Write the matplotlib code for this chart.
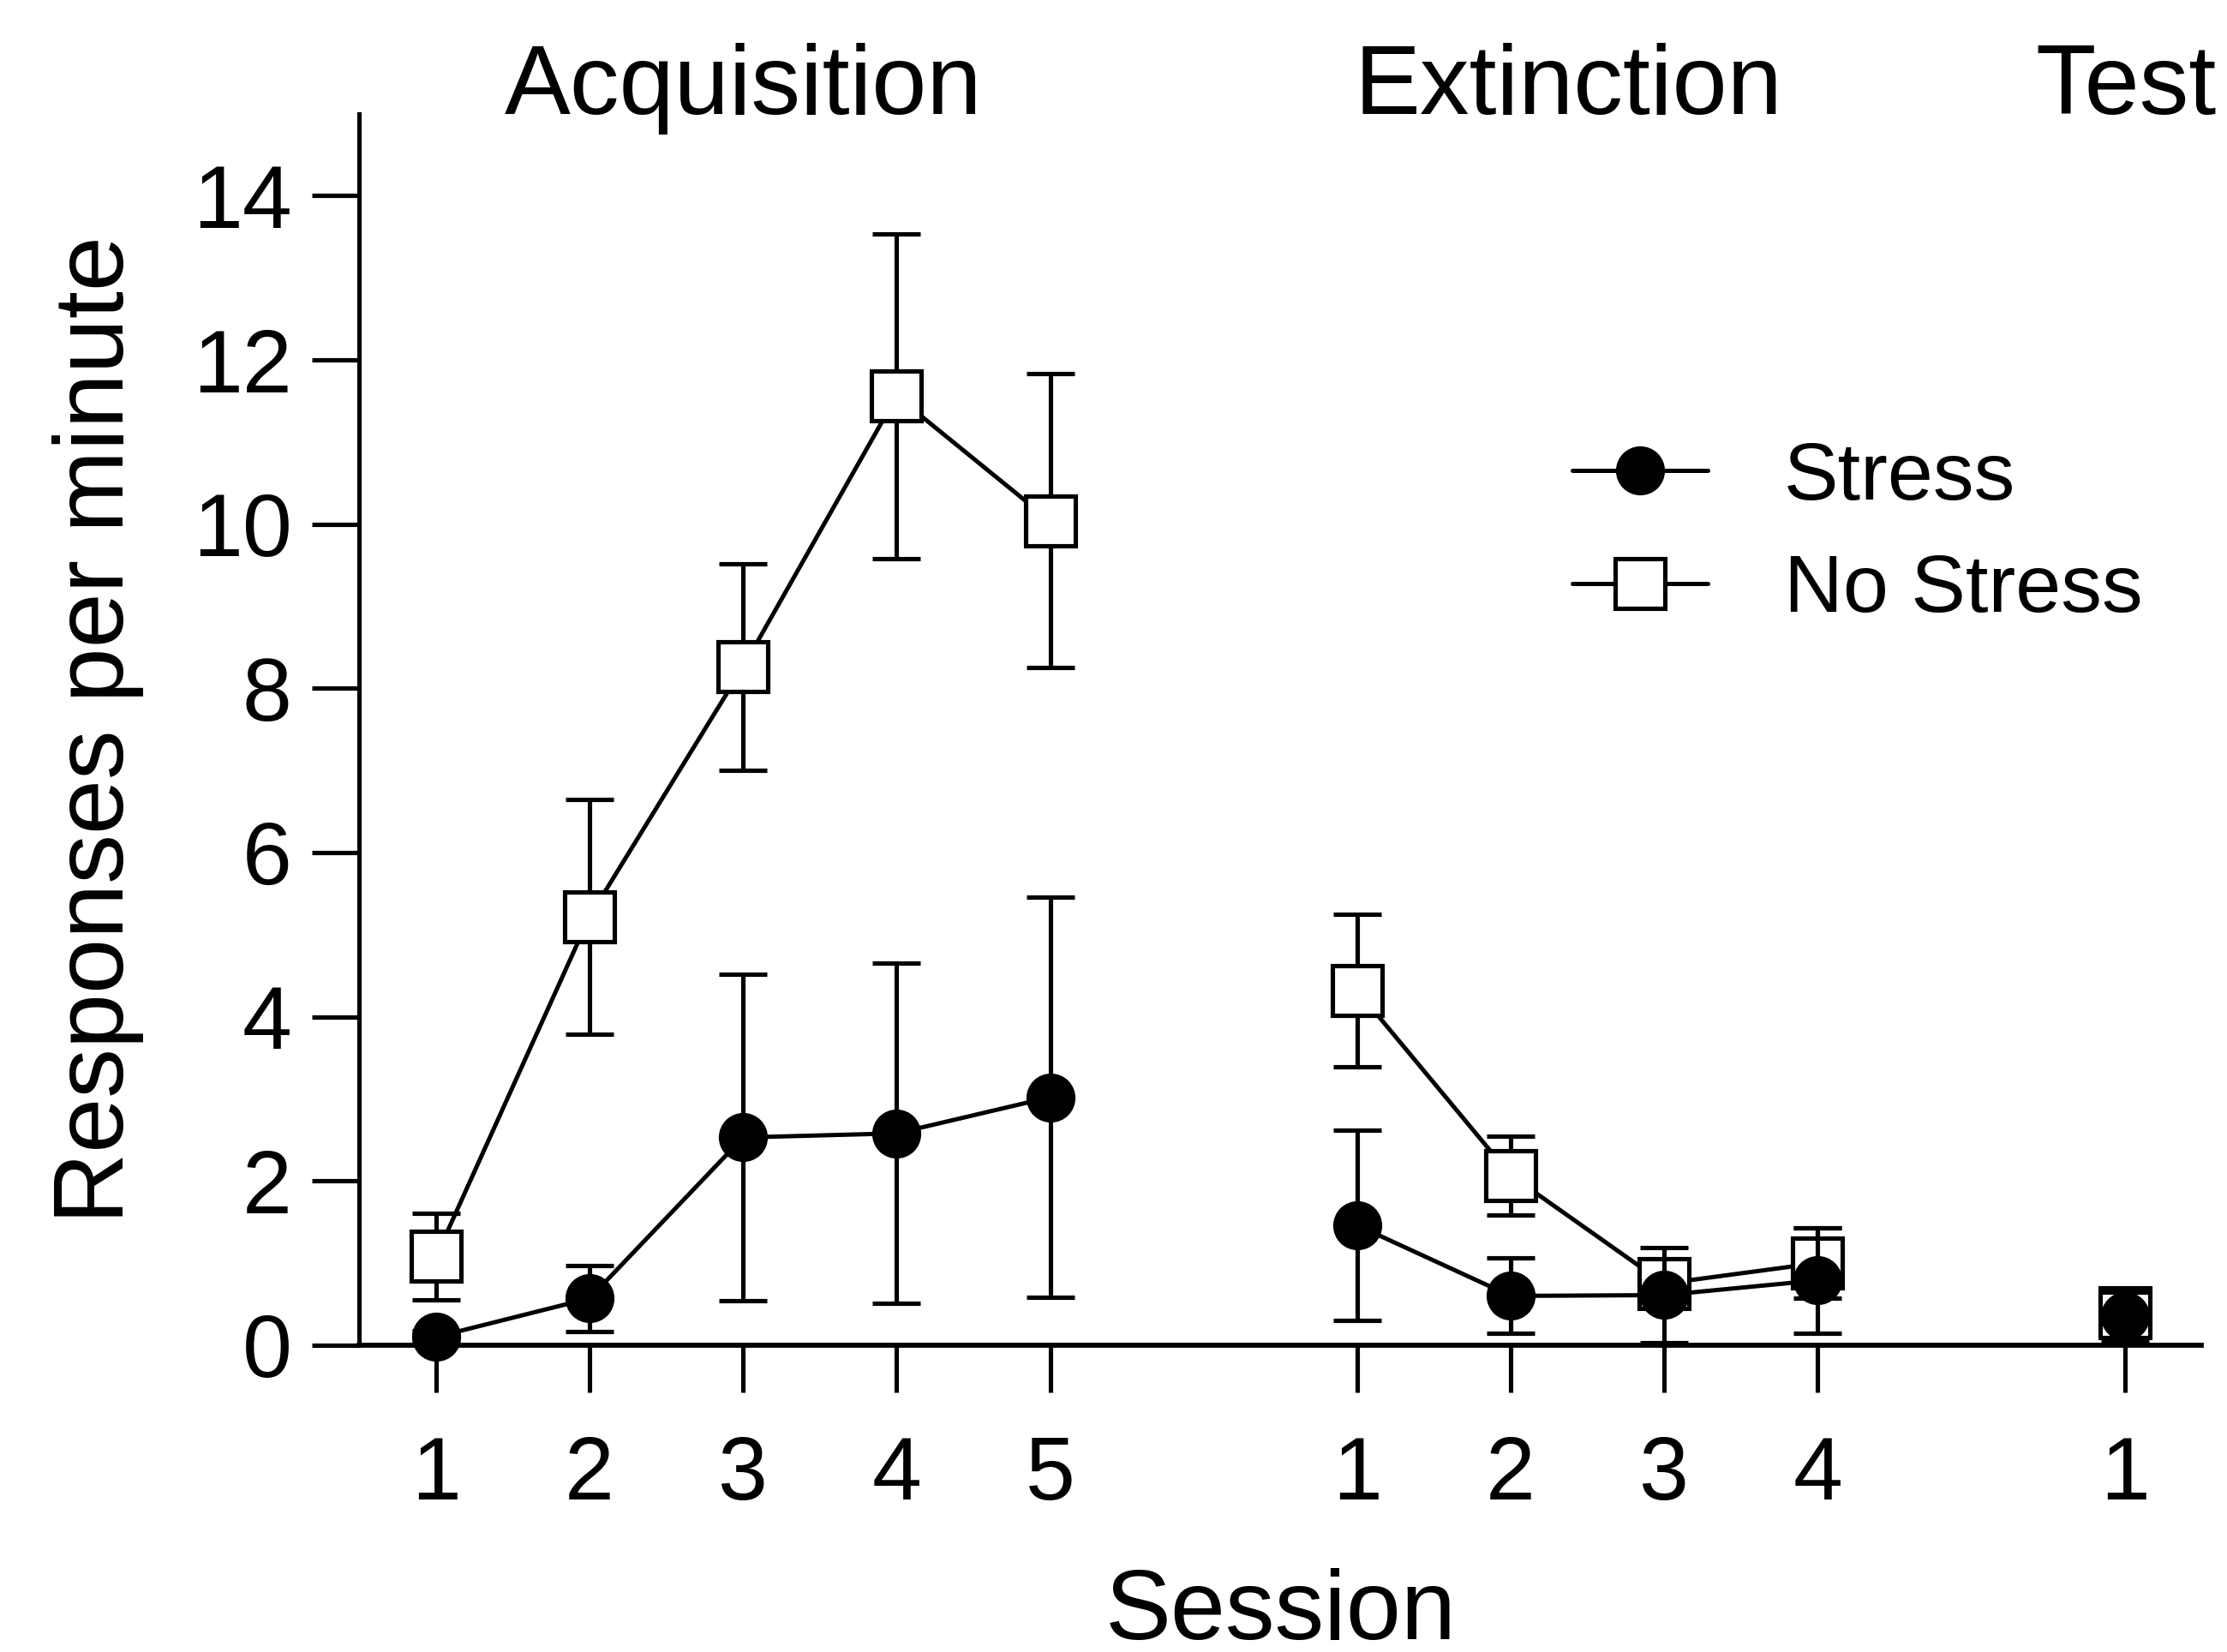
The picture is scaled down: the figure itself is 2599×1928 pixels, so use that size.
import matplotlib
matplotlib.use('Agg')
import matplotlib.pyplot as plt

plt.rcParams['font.family'] = ['Liberation Sans', 'DejaVu Sans']

# ---- data ----
phases = ['Acquisition', 'Extinction', 'Test']
acq_sessions = [1, 2, 3, 4, 5]
ext_sessions = [1, 2, 3, 4]
test_sessions = [1]

stress_acq_mean = [0.10, 0.57, 2.53, 2.58, 3.02]
stress_acq_sem = [0.08, 0.40, 1.99, 2.07, 2.44]
nostress_acq_mean = [1.08, 5.22, 8.26, 11.56, 10.04]
nostress_acq_sem = [0.53, 1.43, 1.26, 1.98, 1.79]

stress_ext_mean = [1.46, 0.60, 0.61, 0.79]
stress_ext_sem = [1.16, 0.46, 0.58, 0.64]
nostress_ext_mean = [4.32, 2.07, 0.75, 1.00]
nostress_ext_sem = [0.93, 0.48, 0.15, 0.43]

stress_test_mean = [0.35]
stress_test_sem = [0.30]
nostress_test_mean = [0.40]
nostress_test_sem = [0.15]

y_ticks = [0, 2, 4, 6, 8, 10, 12, 14]

# phase offsets along the session axis (gap of one slot between phases)
offsets = {'Acquisition': 0, 'Extinction': 6, 'Test': 11}

fig = plt.figure(figsize=(25.99, 19.28), dpi=100)
ax = fig.add_axes([0.16135, 0.18573, 0.82717, 0.74548])

LW = 3.7
DLW = 3.6
common = dict(color='black', elinewidth=LW, capsize=20, capthick=LW,
              markeredgewidth=LW, markeredgecolor='black', clip_on=False)

def xs(phase, sessions):
    return [s + offsets[phase] for s in sessions]

groups = [
    ('Acquisition', acq_sessions, nostress_acq_mean, nostress_acq_sem, stress_acq_mean, stress_acq_sem),
    ('Extinction', ext_sessions, nostress_ext_mean, nostress_ext_sem, stress_ext_mean, stress_ext_sem),
    ('Test', test_sessions, nostress_test_mean, nostress_test_sem, stress_test_mean, stress_test_sem),
]

for phase, sess, nm, ns, sm, ss in groups:
    x = xs(phase, sess)
    ax.errorbar(x, nm, yerr=ns, fmt='-s', markersize=41.7, markerfacecolor='white',
                linewidth=DLW, zorder=3, **common)
    ax.errorbar(x, sm, yerr=ss, fmt='-o', markersize=37.5, markerfacecolor='black',
                linewidth=DLW, zorder=4, **common)

# legend handles
h1, = ax.plot([], [], '-o', color='black', markersize=37.5, markerfacecolor='black',
              markeredgewidth=LW, linewidth=DLW, solid_capstyle='round')
h2, = ax.plot([], [], '-s', color='black', markersize=41.7, markerfacecolor='white',
              markeredgewidth=LW, linewidth=DLW, solid_capstyle='round')
leg = ax.legend([h1, h2], ['Stress', 'No Stress'], loc='upper left',
                bbox_to_anchor=(0.6585, 0.735), frameon=False, fontsize=68.7,
                handlelength=1.66, handletextpad=0.93, labelspacing=0.45,
                borderpad=0, borderaxespad=0, markerscale=1.0)

ax.set_xlim(0.5, 12.5)
ax.set_ylim(0, 15)

xt = xs('Acquisition', acq_sessions) + xs('Extinction', ext_sessions) + xs('Test', test_sessions)
xl = [str(s) for s in acq_sessions + ext_sessions + test_sessions]
ax.set_xticks(xt)
ax.set_xticklabels(xl)
ax.set_yticks(y_ticks)
ax.set_yticklabels([str(v) for v in y_ticks])

for s in ['top', 'right']:
    ax.spines[s].set_visible(False)
ax.spines['left'].set_linewidth(3.7)
ax.spines['bottom'].set_linewidth(4.2)

ax.tick_params(axis='both', length=39.6, width=LW, labelsize=75, direction='out')
ax.tick_params(axis='x', pad=36)
ax.tick_params(axis='y', pad=17)

ax.set_xlabel('Session', fontsize=83)
ax.xaxis.set_label_coords(0.5, -0.181)
ax.set_ylabel('Responses per minute', fontsize=83)
ax.yaxis.set_label_coords(-0.117, 0.5)

# phase titles
ax.text(3.0, 15.0, 'Acquisition', fontsize=83, ha='center', va='baseline', clip_on=False)
ax.text(8.375, 15.0, 'Extinction', fontsize=83, ha='center', va='baseline', clip_on=False)
ax.text(11.42, 15.0, 'Test', fontsize=83, ha='left', va='baseline', clip_on=False)

fig.savefig('out.png', dpi=100)
